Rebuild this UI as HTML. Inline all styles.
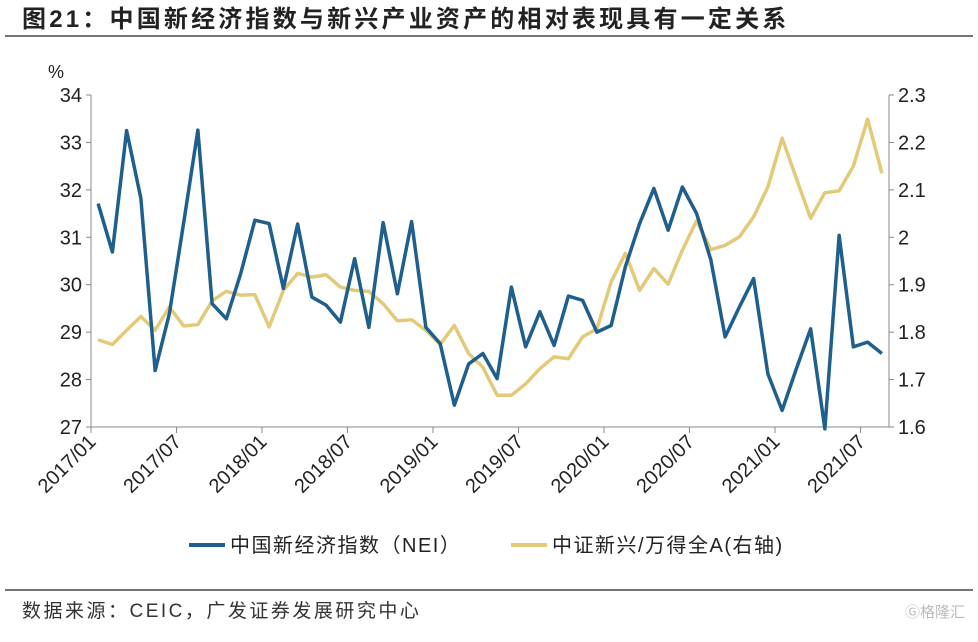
<!DOCTYPE html>
<html><head><meta charset="utf-8">
<style>
body{margin:0;background:#fff;width:978px;height:637px;overflow:hidden;font-family:"Liberation Sans","Noto Sans CJK SC",sans-serif;}
</style></head>
<body>
<svg id="chart" width="978" height="637" xmlns="http://www.w3.org/2000/svg" font-family="Liberation Sans, Noto Sans CJK SC, sans-serif">
<text x="22" y="27" font-size="24" font-weight="bold" fill="#222" letter-spacing="3.2">图21：中国新经济指数与新兴产业资产的相对表现具有一定关系</text>
<line x1="5" y1="36" x2="973" y2="36" stroke="#222" stroke-width="1.2"/>
<text x="48" y="78" font-size="18" fill="#222">%</text>
<g id="axes"></g>
<g id="series"></g>
<g>
<line x1="189" y1="545" x2="225" y2="545" stroke="#1F5F8E" stroke-width="4"/>
<text x="230" y="552" font-size="20" fill="#222" letter-spacing="1.5">中国新经济指数（NEI）</text>
<line x1="511" y1="545" x2="547" y2="545" stroke="#E2CA78" stroke-width="4"/>
<text x="552" y="552" font-size="20" fill="#222" letter-spacing="1.5">中证新兴/万得全A(右轴)</text>
</g>
<line x1="5" y1="590" x2="973" y2="590" stroke="#222" stroke-width="1.2"/>
<text x="22" y="617" font-size="19" fill="#333" letter-spacing="2.5">数据来源：CEIC，广发证券发展研究中心</text>
<text x="905" y="617" font-size="15" fill="#bbb">Ⓖ格隆汇</text>
</svg>
<script>
const months = [];
for (let y = 2017; y <= 2021; y++) for (let m = 1; m <= 12; m++) { if (y === 2021 && m > 8) break; months.push(y + '/' + String(m).padStart(2, '0')); }
const neiValues = [31.71,30.69,33.25,31.82,28.19,29.39,31.3,33.26,29.6,29.28,30.23,31.36,31.29,29.92,31.28,29.74,29.57,29.21,30.55,29.1,31.31,29.81,31.33,29.1,28.76,27.46,28.33,28.55,28.02,29.95,28.69,29.43,28.72,29.76,29.67,29.0,29.14,30.38,31.29,32.03,31.15,32.06,31.5,30.52,28.9,29.53,30.13,28.12,27.35,28.23,29.07,26.96,31.04,28.69,28.79,28.55];
const ratioValues = [1.784,1.774,1.804,1.833,1.804,1.853,1.813,1.816,1.866,1.886,1.878,1.879,1.811,1.888,1.924,1.916,1.921,1.895,1.888,1.886,1.860,1.824,1.826,1.804,1.774,1.814,1.755,1.726,1.667,1.667,1.691,1.723,1.748,1.744,1.790,1.807,1.906,1.966,1.888,1.934,1.901,1.973,2.035,1.974,1.983,2.001,2.043,2.106,2.209,2.124,2.040,2.094,2.098,2.150,2.249,2.135];
const leftTicks = [27,28,29,30,31,32,33,34];
const rightTicks = ["1.6","1.7","1.8","1.9","2","2.1","2.2","2.3"];
const xTickLabels = ["2017/01","2017/07","2018/01","2018/07","2019/01","2019/07","2020/01","2020/07","2021/01","2021/07"];

const NS = 'http://www.w3.org/2000/svg';
const x0 = 91, step = 14.25, yTop = 95, yBot = 427;
const xPos = i => x0 + step * (i + 0.5);
const yL = v => yBot - (v - 27) / 7 * (yBot - yTop);
const yR = v => yBot - (v - 1.6) / 0.7 * (yBot - yTop);
const xRight = x0 + step * months.length;
function mk(tag, attrs, parent) { const e = document.createElementNS(NS, tag); for (const k in attrs) e.setAttribute(k, attrs[k]); parent.appendChild(e); return e; }
const axes = document.getElementById('axes');
let a = mk('line', {x1:x0,y1:yTop,x2:x0,y2:yBot,stroke:'#888','stroke-width':1}, axes);
 
a = mk('line', {x1:xRight,y1:yTop,x2:xRight,y2:yBot,stroke:'#888','stroke-width':1}, axes);
 
a = mk('line', {x1:x0,y1:yBot,x2:xRight,y2:yBot,stroke:'#888','stroke-width':1}, axes);
 
leftTicks.forEach(v => {
  const y = yL(v);
  mk('line', {x1:x0-5,y1:y,x2:x0,y2:y,stroke:'#888'}, axes);
  const t = mk('text', {x:x0-9,y:y+7,'text-anchor':'end','font-size':20,fill:'#222'}, axes);
  t.textContent = v;
  
  
});
rightTicks.forEach(v => {
  const y = yR(parseFloat(v));
  mk('line', {x1:xRight,y1:y,x2:xRight+5,y2:y,stroke:'#888'}, axes);
  const t = mk('text', {x:xRight+9,y:y+7,'font-size':20,fill:'#222'}, axes);
  t.textContent = v;
  
  
});
xTickLabels.forEach(lbl => {
  const i = months.indexOf(lbl);
  const x = x0 + step * i;
  mk('line', {x1:x,y1:yBot,x2:x,y2:yBot+6,stroke:'#888'}, axes);
  const t = mk('text', {x:x+6,y:yBot+16,'text-anchor':'end','font-size':20,fill:'#222',transform:`rotate(-45 ${x+6} ${yBot+16})`}, axes);
  t.textContent = lbl;
  
  
});
const series = document.getElementById('series');
let p = mk('polyline', {points: ratioValues.map((v,i)=>xPos(i)+','+yR(v)).join(' '), fill:'none', stroke:'#E2CA78','stroke-width':3.5,'stroke-linejoin':'round'}, series);


p = mk('polyline', {points: neiValues.map((v,i)=>xPos(i)+','+yL(v)).join(' '), fill:'none', stroke:'#1F5F8E','stroke-width':3.5,'stroke-linejoin':'round'}, series);


</script>
</body></html>
